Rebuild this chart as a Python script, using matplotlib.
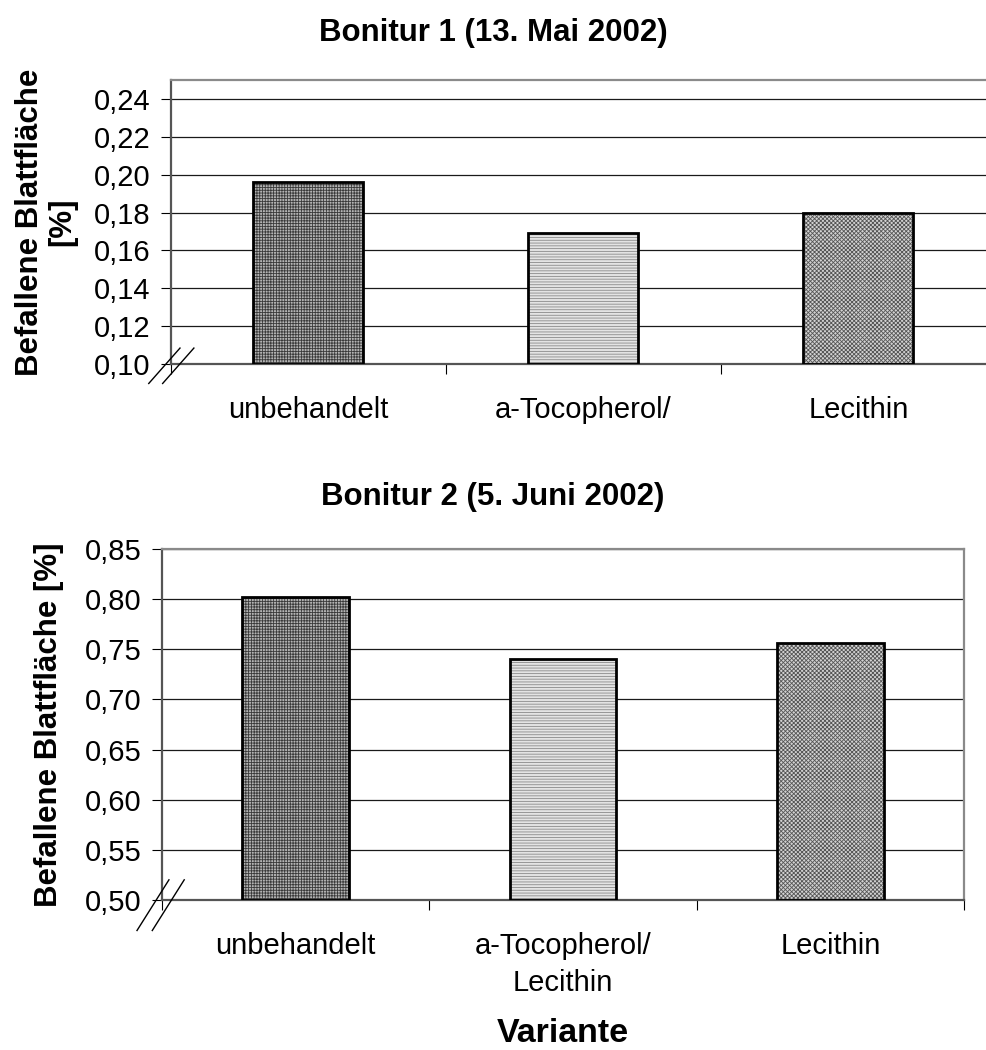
import matplotlib
matplotlib.use("Agg")
import matplotlib.pyplot as plt
from matplotlib.lines import Line2D
from matplotlib.transforms import ScaledTranslation
import numpy as np

plt.rcParams['font.family'] = ['Liberation Sans', 'DejaVu Sans']
plt.rcParams['hatch.linewidth'] = 0.6

# Bonitur 1 (13. Mai 2002)
labels_1 = ['unbehandelt', 'a-Tocopherol/', 'Lecithin']
values_1 = [0.196, 0.169, 0.180]
yticks_1 = [0.10, 0.12, 0.14, 0.16, 0.18, 0.20, 0.22, 0.24]

# Bonitur 2 (5. Juni 2002)
labels_2 = ['unbehandelt', 'a-Tocopherol/\nLecithin', 'Lecithin']
values_2 = [0.802, 0.740, 0.756]
yticks_2 = [0.50, 0.55, 0.60, 0.65, 0.70, 0.75, 0.80, 0.85]

# fill pattern per variant: face, hatch, hatch colour
fills = [('#b4b4b4', '++++++', '#3a3a3a'),
         ('#e4e4e4', '------', '#8a8a8a'),
         ('#d2d2d2', 'xxxxxxxx', '#555555')]

FS = 21      # tick labels
FB = 22.5    # bold labels / titles
fig = plt.figure(figsize=(9.86, 10.5), dpi=100)
ax1 = fig.add_axes([0.1734, 0.6533, 0.8367, 0.2705])
ax2 = fig.add_axes([0.1643, 0.1429, 0.8134, 0.3343])


def draw(ax, labels, values, yticks, ylim, brk):
    x = np.arange(len(values))
    for i in x:
        face, hatch, hcol = fills[i]
        ax.bar(x[i], values[i] - ylim[0], bottom=ylim[0], width=0.4,
               facecolor=face, hatch=hatch, edgecolor=hcol, linewidth=0, zorder=2)
        ax.bar(x[i], values[i] - ylim[0], bottom=ylim[0], width=0.4,
               facecolor='none', edgecolor='black', linewidth=2, zorder=3)
    ax.set_xlim(-0.5, len(values) - 0.5)
    ax.set_ylim(*ylim)
    ax.set_yticks(yticks)
    ax.set_yticklabels(['{:.2f}'.format(v).replace('.', ',') for v in yticks], fontsize=FS)
    ax.set_xticks(x)
    ax.set_xticklabels(labels, fontsize=FS, linespacing=1.4)
    ax.set_xticks(np.arange(len(values) + 1) - 0.5, minor=True)
    ax.tick_params(axis='x', which='major', length=0, pad=23)
    ax.tick_params(axis='x', which='minor', length=7, width=0.8, direction='out')
    ax.tick_params(axis='y', length=7, width=0.8, direction='out', pad=8)
    ax.yaxis.grid(True, color='#1a1a1a', linewidth=0.9)
    ax.set_axisbelow(True)
    for s in ax.spines.values():
        s.set_color('#8a8a8a')
        s.set_linewidth(1.6)
    ax.spines['left'].set_color('#555555')
    ax.spines['bottom'].set_color('#555555')

    # axis break marks at the origin (offsets in points)
    (x0, y0), (x1, y1), gap = brk
    for dx in (0, gap):
        tr = fig.dpi_scale_trans + ScaledTranslation(0, 0, ax.transAxes) \
            + ScaledTranslation(dx / 72, 0, fig.dpi_scale_trans)
        fig.add_artist(Line2D([x0 / 72, x1 / 72], [y0 / 72, y1 / 72], transform=tr,
                              color='black', linewidth=1.0, clip_on=False))


draw(ax1, labels_1, values_1, yticks_1, (0.10, 0.25), ((-16, -14), (6.5, 11.5), 10))
draw(ax2, labels_2, values_2, yticks_2, (0.50, 0.85), ((-18, -22), (5, 14.5), 11))

ax1.set_ylabel('Befallene Blattfläche\n[%]', fontsize=FB, fontweight='bold', linespacing=1.1)
ax1.yaxis.set_label_coords(-0.113, 0.5)
ax2.set_ylabel('Befallene Blattfläche [%]', fontsize=FB, fontweight='bold')
ax2.yaxis.set_label_coords(-0.122, 0.5)
ax2.set_xlabel('Variante', fontsize=24.5, fontweight='bold')
ax2.xaxis.set_label_coords(0.5, -0.335)

fig.text(0.5, 1 - 33 / 1050, 'Bonitur 1 (13. Mai 2002)', ha='center', va='center',
         fontsize=FB, fontweight='bold')
fig.text(0.5, 1 - 497 / 1050, 'Bonitur 2 (5. Juni 2002)', ha='center', va='center',
         fontsize=FB, fontweight='bold')

fig.savefig('out.png', dpi=100)
